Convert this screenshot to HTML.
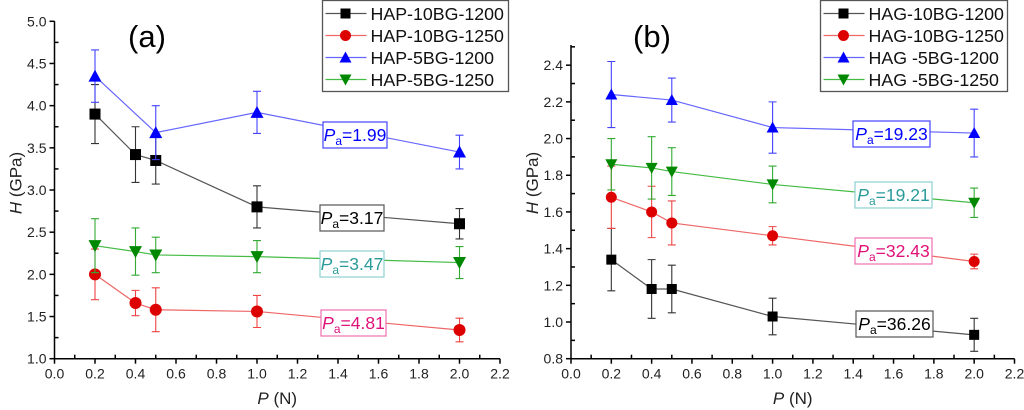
<!DOCTYPE html>
<html><head><meta charset="utf-8"><style>
html,body{margin:0;padding:0;background:#fff;}
svg{display:block;font-family:"Liberation Sans",Arial,sans-serif;}
</style></head><body>
<svg id="fig" width="1024" height="410" viewBox="0 0 1024 410" xmlns="http://www.w3.org/2000/svg"></svg>
<script>
// ---- Panel (a) data ----
const xA_1200_10 = [0.2,0.4,0.5,1.0,2.0];
const yA_1200_10 = [3.90,3.42,3.35,2.80,2.60];
const eA_1200_10 = [0.35,0.33,0.28,0.25,0.18];
const xA_1250_10 = [0.2,0.4,0.5,1.0,2.0];
const yA_1250_10 = [2.00,1.66,1.58,1.56,1.34];
const eA_1250_10 = [0.30,0.15,0.26,0.19,0.14];
const xA_1200_5 = [0.2,0.5,1.0,2.0];
const yA_1200_5 = [4.35,3.68,3.92,3.45];
const eA_1200_5 = [0.31,0.32,0.25,0.20];
const xA_1250_5 = [0.2,0.4,0.5,1.0,2.0];
const yA_1250_5 = [2.34,2.27,2.23,2.21,2.14];
const eA_1250_5 = [0.32,0.28,0.21,0.19,0.19];
// ---- Panel (b) data ----
const xB_1200_10 = [0.2,0.4,0.5,1.0,2.0];
const yB_1200_10 = [1.34,1.18,1.18,1.03,0.93];
const eB_1200_10 = [0.17,0.16,0.13,0.10,0.09];
const xB_1250_10 = [0.2,0.4,0.5,1.0,2.0];
const yB_1250_10 = [1.68,1.60,1.54,1.47,1.33];
const eB_1250_10 = [0.17,0.14,0.12,0.05,0.04];
const xB_1200_5 = [0.2,0.5,1.0,2.0];
const yB_1200_5 = [2.24,2.21,2.06,2.03];
const eB_1200_5 = [0.18,0.12,0.14,0.13];
const xB_1250_5 = [0.2,0.4,0.5,1.0,2.0];
const yB_1250_5 = [1.86,1.84,1.82,1.75,1.65];
const eB_1250_5 = [0.14,0.17,0.13,0.10,0.08];
const xTicks = ["0.0","0.2","0.4","0.6","0.8","1.0","1.2","1.4","1.6","1.8","2.0","2.2"];
const yTicksA = ["1.0","1.5","2.0","2.5","3.0","3.5","4.0","4.5","5.0"];
const yTicksB = ["0.8","1.0","1.2","1.4","1.6","1.8","2.0","2.2","2.4"];
const legendA = ["HAP-10BG-1200","HAP-10BG-1250","HAP-5BG-1200","HAP-5BG-1250"];
const legendB = ["HAG-10BG-1200","HAG-10BG-1250","HAG -5BG-1200","HAG -5BG-1250"];
const paA = ["1.99","3.17","3.47","4.81"];
const paB = ["19.23","19.21","32.43","36.26"];

const NS="http://www.w3.org/2000/svg";
const svg=document.getElementById('fig');
function mk(tag,attrs,parent){const e=document.createElementNS(NS,tag);for(const k in attrs)e.setAttribute(k,attrs[k]);(parent||svg).appendChild(e);return e;}

const markerCol=["#000000","#dd0000","#0000ff","#008800"];
const lineCol=["#555555","#ee6666","#6666ff","#44bb44"];
const errCol=["#333333","#ee4444","#4444ff","#33aa33"];
const shapes=["square","circle","up","down"];

function marker(g,shape,cx,cy,s,col){
  let e;
  if(shape==="square") e=mk('rect',{x:cx-s/2,y:cy-s/2,width:s,height:s,fill:col},g);
  else if(shape==="circle") e=mk('circle',{cx:cx,cy:cy,r:s/2+0.5,fill:col},g);
  else if(shape==="up") e=mk('polygon',{points:`${cx},${cy-s/2-1} ${cx-s/2-1},${cy+s/2} ${cx+s/2+1},${cy+s/2}`,fill:col},g);
  else e=mk('polygon',{points:`${cx},${cy+s/2+1} ${cx-s/2-1},${cy-s/2} ${cx+s/2+1},${cy-s/2}`,fill:col},g);
  
  
}

function panel(cfg){
  const {name,x0,x1,yBot,yTop,yMin,yMax,yTickVals,yTicks,series,legend,lx,lw,pa,paBoxes,label,labelX,ms}=cfg;
  const g=mk('g',{});  
  const xs=v=>x0+(v/2.2)*(x1-x0);
  const ys=v=>yBot-(v-yMin)/(yMax-yMin)*(yBot-yTop);
  const ax=mk('g',{stroke:'#000','stroke-width':1.5},g);
   
  mk('line',{x1:x0,y1:yBot,x2:x1,y2:yBot},ax);
  mk('line',{x1:x0,y1:yBot,x2:x0,y2:yTop},ax);
  xTicks.forEach((t,i)=>{
    const v=i*0.2,x=xs(v);
    mk('line',{x1:x,y1:yBot,x2:x,y2:yBot+5},ax);
    if(i<xTicks.length-1){const xm=xs(v+0.1);mk('line',{x1:xm,y1:yBot,x2:xm,y2:yBot-4},ax);}
    const tx=mk('text',{x:x,y:yBot+20,'font-size':14,'text-anchor':'middle',fill:'#222'},g);
    tx.textContent=t;  
  });
  yTicks.forEach((t,i)=>{
    const v=yTickVals[i],y=ys(v);
    mk('line',{x1:x0-5,y1:y,x2:x0,y2:y},ax);
    const vm=v+(yTickVals[1]-yTickVals[0])/2;
    if(vm<=yMax+1e-9){const ym=ys(vm);mk('line',{x1:x0,y1:ym,x2:x0+4,y2:ym},ax);}
    const tx=mk('text',{x:x0-8,y:y+5,'font-size':14,'text-anchor':'end',fill:'#222'},g);
    tx.textContent=t;  
  });
  const xt=mk('text',{x:(x0+x1)/2,y:404,'font-size':17,'text-anchor':'middle',fill:'#222'},g);
  xt.innerHTML='<tspan font-style="italic">P</tspan> (N)';
   
  const yt=mk('text',{x:0,y:0,'font-size':17,'text-anchor':'middle',fill:'#222',transform:`translate(${x0-33},183) rotate(-90)`},g);
  yt.innerHTML='<tspan font-style="italic">H</tspan> (GPa)';
   
  const lb=mk('text',{x:labelX,y:47,'font-size':31,'text-anchor':'middle',fill:'#000'},g);
  lb.textContent=label;  
  series.forEach((s,k)=>{
    const sg=mk('g',{},g);  
    const pts=s.x.map((v,i)=>xs(v)+','+ys(s.y[i])).join(' ');
    const pl=mk('polyline',{points:pts,fill:'none',stroke:lineCol[k],'stroke-width':1.2},sg);
     
    s.x.forEach((v,i)=>{
      const x=xs(v),yh=ys(s.y[i]+s.e[i]),yl=ys(s.y[i]-s.e[i]);
      const eb=mk('path',{d:`M${x},${yh}V${yl}M${x-4},${yh}H${x+4}M${x-4},${yl}H${x+4}`,stroke:errCol[k],'stroke-width':1.1,fill:'none'},sg);
       
    });
    s.x.forEach((v,i)=>marker(sg,shapes[k],xs(v),ys(s.y[i]),ms,markerCol[k]));
  });
  const paCol=[["#0000ff","#4444ff"],["#000","#555"],["#2a9a9a","#8fd0d0"],["#e0107a","#f070b0"]];
  pa.forEach((t,i)=>{
    const b=paBoxes[i];
    const bg=mk('g',{},g);  
    mk('rect',{x:b[0],y:b[1],width:b[2],height:26,fill:'#fff',stroke:paCol[b[3]][1],'stroke-width':1.2},bg);
    const tx=mk('text',{x:b[0]+b[2]/2,y:b[1]+19,'font-size':17.5,'text-anchor':'middle',fill:paCol[b[3]][0]},bg);
    tx.innerHTML=`<tspan font-style="italic">P</tspan><tspan font-size="12" dy="4">a</tspan><tspan dy="-4">=${t}</tspan>`;
  });
  const lg=mk('g',{},g);  
  mk('rect',{x:lx,y:0.5,width:lw,height:91,fill:'#fff',stroke:'#555','stroke-width':1.3},lg);
  legend.forEach((t,k)=>{
    const y=13.5+k*22;
    const eg=mk('g',{},lg);  
    mk('line',{x1:lx+3,y1:y,x2:lx+44,y2:y,stroke:lineCol[k],'stroke-width':1.3},eg);
    marker(eg,shapes[k],lx+23,y,10,markerCol[k]);
    const tx=mk('text',{x:lx+48,y:y+6.5,'font-size':17.8,fill:'#111'},eg); tx.textContent=t;
  });
}

panel({name:'panel-a',x0:54.5,x1:500,yBot:358.7,yTop:21.3,yMin:1.0,yMax:5.0,
  yTickVals:[1,1.5,2,2.5,3,3.5,4,4.5,5],yTicks:yTicksA,
  series:[{x:xA_1200_10,y:yA_1200_10,e:eA_1200_10},{x:xA_1250_10,y:yA_1250_10,e:eA_1250_10},{x:xA_1200_5,y:yA_1200_5,e:eA_1200_5},{x:xA_1250_5,y:yA_1250_5,e:eA_1250_5}],
  legend:legendA,lx:322.5,lw:186,pa:paA,
  paBoxes:[[323,122,64,0],[320,205,64,1],[320,251,64,2],[321,310,65,3]],
  label:'(a)',labelX:147,ms:11});
panel({name:'panel-b',x0:571,x1:1014.5,yBot:358.7,yTop:45,yMin:0.8,yMax:2.51,
  yTickVals:[0.8,1,1.2,1.4,1.6,1.8,2,2.2,2.4],yTicks:yTicksB,
  series:[{x:xB_1200_10,y:yB_1200_10,e:eB_1200_10},{x:xB_1250_10,y:yB_1250_10,e:eB_1250_10},{x:xB_1200_5,y:yB_1200_5,e:eB_1200_5},{x:xB_1250_5,y:yB_1250_5,e:eB_1250_5}],
  legend:legendB,lx:820.5,lw:187,pa:paB,
  paBoxes:[[853,121,77,0],[855,182,77,2],[855,238,77,3],[856,311,77,1]],
  label:'(b)',labelX:652,ms:10});
</script>
</body></html>
